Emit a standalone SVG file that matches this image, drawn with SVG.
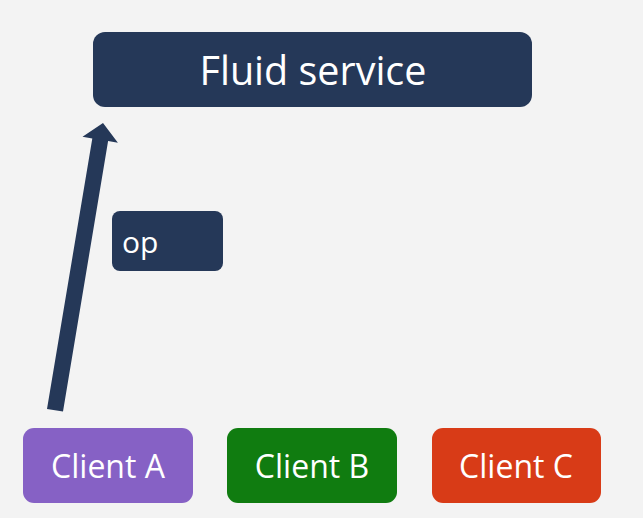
<svg xmlns="http://www.w3.org/2000/svg" width="643" height="518" viewBox="0 0 643 518">
<style>
.t{font-family:"Open Sans","Noto Sans",sans-serif;fill:#fff}
.nav{fill:#253858}
</style>
<rect width="643" height="518" fill="#f3f3f3"/>
<g id="fluid-service">
<rect class="nav" x="93" y="32" width="439" height="75" rx="12"/>
<text class="t" x="313" y="85" font-size="39.5" text-anchor="middle">Fluid service</text>
</g>
<g id="op">
<rect class="nav" x="112" y="211" width="111" height="60" rx="8"/>
<text class="t" x="122" y="253" font-size="30">op</text>
</g>
<g id="client-a">
<rect x="23" y="428" width="170" height="75" rx="11" fill="#8661c5"/>
<text class="t" x="108" y="478" font-size="32" text-anchor="middle">Client A</text>
</g>
<g id="client-b">
<rect x="227" y="428" width="170" height="75" rx="11" fill="#107c10"/>
<text class="t" x="312" y="478" font-size="32" text-anchor="middle">Client B</text>
</g>
<g id="client-c">
<rect x="432" y="428" width="169" height="75" rx="11" fill="#d83b17"/>
<text class="t" x="516" y="478" font-size="32" text-anchor="middle">Client C</text>
</g>
<g id="connectors">
<polygon class="nav" points="47,409 92.3,138.5 82.5,136.8 103,123 117.9,142.8 108.1,141.1 63,411.5"/>
</g>
</svg>
